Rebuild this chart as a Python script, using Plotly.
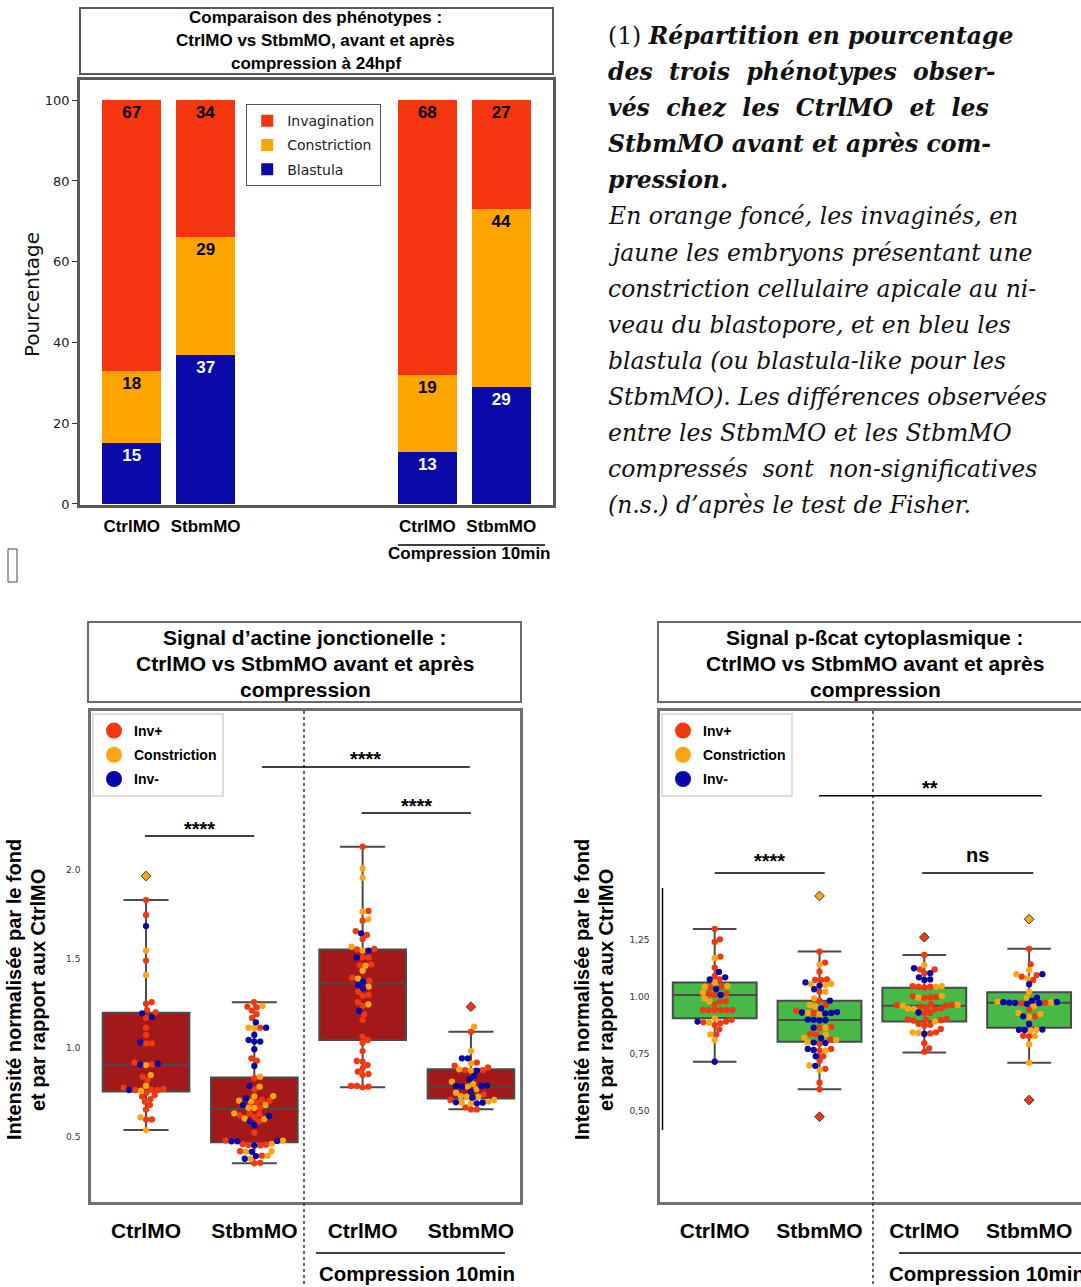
import math
import plotly.graph_objects as go

W, H = 1081, 1287          # reference pixel grid
FIG_H = 1294               # rendered height (compensates the capture's vertical rescale)
def PX(x): return x / W
def PY(y): return 1 - y / H

# ======================= DATA =======================
# (1) phenotype distribution (%), stacked bars
bar_labels = ["CtrlMO", "StbmMO", "CtrlMO", "StbmMO"]
pct_blastula = [15, 37, 13, 29]
pct_constriction = [18, 29, 19, 44]
pct_invagination = [67, 34, 68, 27]
pct_ticks = [0, 20, 40, 60, 80, 100]

# (2) junctional actin signal: box statistics
box_labels = ["CtrlMO", "StbmMO", "CtrlMO", "StbmMO"]
actin_low = [0.539, 0.352, 0.779, 0.656]
actin_q1 = [0.755, 0.470, 1.045, 0.717]
actin_med = [0.904, 0.657, 1.363, 0.783]
actin_q3 = [1.198, 0.835, 1.554, 0.880]
actin_high = [1.831, 1.257, 2.131, 1.092]
actin_ticks = [0.5, 1.0, 1.5, 2.0]
actin_ticktext = ["0.5", "1.0", "1.5", "2.0"]

# actin points per group and phenotype
ac_ctrl_inv = [1.831, 1.747, 1.491, 1.258, 1.249, 1.213, 1.200, 1.170, 1.114, 1.073, 1.026, 1.026,
               0.919, 0.908, 0.839, 0.820, 0.777, 0.770, 0.764, 0.764, 0.766, 0.749, 0.736, 0.727,
               0.713, 0.698, 0.680, 0.655, 0.599, 0.599]
ac_ctrl_con = [1.547, 1.410, 0.904, 0.848, 0.788, 0.760, 0.610, 0.539]
ac_ctrl_neg = [1.685, 1.195, 1.174, 1.032, 0.908, 0.912, 0.764]
ac_stbm_inv = [1.257, 1.232, 1.228, 1.210, 1.190, 1.169, 1.114, 0.942, 0.929, 0.830, 0.768, 0.693,
               0.708, 0.704, 0.665, 0.632, 0.630, 0.622, 0.612, 0.588, 0.524, 0.480, 0.457, 0.455,
               0.453, 0.460, 0.420, 0.395, 0.355, 0.352]
ac_stbm_con = [1.236, 1.114, 1.112, 0.839, 0.783, 0.730, 0.728, 0.704, 0.699, 0.680, 0.665, 0.663,
               0.633, 0.604, 0.600, 0.480, 0.462, 0.420, 0.418, 0.395, 0.378]
ac_stbm_neg = [1.144, 1.114, 1.073, 1.045, 1.036, 1.036, 0.993, 0.899, 0.787, 0.717, 0.680, 0.618,
               0.588, 0.566, 0.478, 0.476, 0.476, 0.452, 0.417, 0.393, 0.378]
ac_cctrl_inv = [2.131, 1.770, 1.715, 1.657, 1.635, 1.612, 1.556, 1.554, 1.509, 1.509, 1.470, 1.466,
                1.395, 1.378, 1.316, 1.298, 1.294, 1.257, 1.236, 1.189, 1.157, 1.064, 1.045, 1.030,
                0.983, 0.923, 0.927, 0.904, 0.886, 0.867, 0.854, 0.848, 0.783, 0.779, 0.787, 0.787]
ac_cctrl_con = [2.009, 1.957, 1.766, 1.723, 1.569, 1.547, 1.463, 1.434, 1.390, 1.345, 1.245]
ac_cctrl_neg = [1.644, 1.547, 1.509, 1.373, 1.354, 1.335, 1.208]
ac_cstbm_inv = [1.092, 0.918, 0.901, 0.891, 0.876, 0.876, 0.740, 0.708, 0.667, 0.655, 0.655]
ac_cstbm_con = [1.120, 0.983, 0.914, 0.873, 0.880, 0.811, 0.798, 0.783, 0.768, 0.749, 0.730, 0.727,
                0.727, 0.708, 0.699, 0.693, 0.689]
ac_cstbm_neg = [0.942, 0.942, 0.873, 0.843, 0.824, 0.787, 0.783, 0.787, 0.789, 0.755, 0.721, 0.689,
                0.693, 0.695]
# actin outliers (value, group index, phenotype)
ac_out_val = [1.966, 1.232]
ac_out_grp = [0, 3]
ac_out_cat = ["con", "inv"]

# (3) cytoplasmic p-bcat signal: box statistics
pb_low = [0.716, 0.595, 0.757, 0.712]
pb_q1 = [0.907, 0.804, 0.892, 0.865]
pb_med = [1.009, 0.899, 0.961, 0.975]
pb_q3 = [1.064, 0.984, 1.041, 1.021]
pb_high = [1.298, 1.199, 1.184, 1.211]
pb_ticks = [0.5, 0.75, 1.0, 1.25]
pb_ticktext = ["0,50", "0,75", "1.00", "1,25"]

pb_ctrl_inv = [1.298, 1.253, 1.241, 1.177, 1.129, 1.092, 1.077, 1.045, 1.042, 1.016, 1.013, 1.009,
               0.982, 0.980, 0.969, 0.943, 0.943, 0.943, 0.943, 0.943, 0.943, 0.900, 0.889, 0.885,
               0.892, 0.877, 0.858, 0.836]
pb_ctrl_con = [1.170, 1.063, 1.048, 1.045, 1.019, 0.994, 0.980, 0.906, 0.887, 0.836, 0.811]
pb_ctrl_neg = [1.110, 1.077, 1.086, 1.034, 1.009, 0.892, 0.716]
pb_stbm_inv = [1.199, 1.151, 1.111, 1.077, 1.075, 1.075, 1.023, 0.984, 0.965, 0.940, 0.930,
               0.865, 0.868, 0.835, 0.838, 0.812, 0.795, 0.772, 0.765, 0.740, 0.720, 0.685, 0.624, 0.595]
pb_stbm_con = [1.142, 1.058, 1.052, 1.056, 1.023, 0.994, 0.965, 0.958, 0.930, 0.925, 0.865,
               0.835, 0.822, 0.812, 0.802, 0.765, 0.700, 0.680]
pb_stbm_neg = [1.064, 1.050, 1.034, 0.984, 0.950, 0.930, 0.928, 0.932, 0.934, 0.900, 0.898,
               0.897, 0.901, 0.865, 0.820, 0.800, 0.798, 0.768, 0.772, 0.740, 0.698]
pb_cctrl_inv = [1.184, 1.121, 1.121, 1.104, 1.045, 1.045, 1.042, 1.048, 1.000, 0.995, 1.003, 0.998,
                0.965, 0.965, 0.968, 0.962, 0.958, 0.950, 0.952, 0.946, 0.930, 0.928, 0.900, 0.898,
                0.902, 0.896, 0.904, 0.875, 0.878, 0.882, 0.860, 0.840, 0.845, 0.797, 0.775, 0.760]
pb_cctrl_con = [1.140, 1.048, 1.045, 1.005, 0.998, 0.966, 0.962, 0.950, 0.948, 0.893, 0.845, 0.842]
pb_cctrl_neg = [1.126, 1.104, 1.086, 1.077, 1.075, 0.932, 0.838]
pb_cstbm_inv = [1.211, 1.143, 1.096, 1.089, 1.075, 0.975, 0.972, 0.946, 0.915, 0.830, 0.828]
pb_cstbm_con = [1.118, 1.082, 1.100, 1.023, 0.997, 0.976, 0.980, 0.960, 0.930, 0.925, 0.913, 0.856,
                0.853, 0.829, 0.792, 0.712]
pb_cstbm_neg = [1.100, 1.056, 0.997, 0.984, 0.978, 0.975, 0.977, 0.973, 0.970, 0.974, 0.915, 0.882,
                0.857, 0.856, 0.855]
pb_out_val = [1.443, 0.475, 1.262, 1.341, 0.548]
pb_out_grp = [1, 1, 2, 3, 3]
pb_out_cat = ["con", "inv", "inv", "con", "inv"]

# ======================= STYLE / LAYOUT CONSTANTS =======================
bar_pos = [0, 1, 4, 5]
box_pos = [0, 1, 2, 3]
C_BAR = {"inv": "#F4350F", "con": "#FFA500", "neg": "#0A0AA8"}
C_PT = {"inv": "#F2380F", "con": "#FFA514", "neg": "#0606A6"}
SANS = "Liberation Sans, Arial, Helvetica, sans-serif"
DSANS = "DejaVu Sans, sans-serif"
SERIF = "DejaVu Serif, serif"
DOT = 6.3      # marker diameter (px)
DSEP = 5.9     # swarm separation (px)

fig = go.Figure()

# ---------------- top stacked bars ----------------
for rank, (vals, name, key, tcol) in enumerate([(pct_blastula, "Blastula", "neg", "white"),
                                                (pct_constriction, "Constriction", "con", "black"),
                                                (pct_invagination, "Invagination", "inv", "black")]):
    fig.add_trace(go.Bar(
        x=bar_pos, y=vals, name=name, width=0.8,
        marker=dict(color=C_BAR[key], line=dict(width=0)),
        texttemplate="<b>%{y}</b>", textposition="inside", insidetextanchor="end",
        textangle=0, constraintext="none",
        textfont=dict(family=SANS, size=17, color=tcol),
        xaxis="x", yaxis="y", legend="legend", legendgroup=name, legendrank=10 - rank,
        hoverinfo="skip"))

# ---------------- swarm helper ----------------
def swarm_offsets(values, ypx, xpx, d):
    n = len(values)
    order = sorted(range(n), key=lambda i: values[i])
    placed = []
    offs = [0.0] * n
    for i in order:
        y = values[i] * ypx
        cands = [0.0]
        for (xj, yj) in placed:
            dy = abs(y - yj)
            if dy < d:
                dx = math.sqrt(d * d - dy * dy)
                cands += [xj + dx, xj - dx]
        cands.sort(key=abs)
        chosen = None
        for c in cands:
            if all((c - xj) ** 2 + (y - yj) ** 2 >= d * d - 1e-6 for xj, yj in placed):
                chosen = c
                break
        if chosen is None:
            chosen = max(abs(c) for c in cands) + d
        placed.append((chosen, y))
        offs[i] = chosen / xpx
    return offs

def add_box_panel(xa, ya, leg, groups, low, q1, med, q3, high, fill,
                  out_val, out_grp, out_cat, ypx, xpx):
    fig.add_trace(go.Box(
        x=box_pos, q1=q1, median=med, q3=q3, lowerfence=low, upperfence=high,
        width=0.8, whiskerwidth=0.52, fillcolor=fill,
        line=dict(color="#4a4a4a", width=2), boxpoints=False,
        xaxis=xa, yaxis=ya, showlegend=False, hoverinfo="skip"))
    fig.add_trace(go.Scatter(
        x=[box_pos[g] for g in out_grp], y=out_val, mode="markers",
        marker=dict(symbol="diamond", size=7.5, color=[C_PT[c] for c in out_cat],
                    line=dict(color="#3a3a3a", width=1)),
        xaxis=xa, yaxis=ya, showlegend=False, hoverinfo="skip"))
    xs = {"inv": [], "con": [], "neg": []}
    ys = {"inv": [], "con": [], "neg": []}
    for gi, (inv, con, neg) in enumerate(groups):
        vals = inv + con + neg
        cats = ["inv"] * len(inv) + ["con"] * len(con) + ["neg"] * len(neg)
        offs = swarm_offsets(vals, ypx, xpx, DSEP)
        for v, c, o in zip(vals, cats, offs):
            xs[c].append(box_pos[gi] + o)
            ys[c].append(v)
    for c in ["inv", "con", "neg"]:
        fig.add_trace(go.Scatter(
            x=xs[c], y=ys[c], mode="markers",
            marker=dict(size=DOT, color=C_PT[c], line=dict(width=0)),
            xaxis=xa, yaxis=ya, showlegend=False, hoverinfo="skip"))
    for c, nm in [("inv", "Inv+"), ("con", "Constriction"), ("neg", "Inv-")]:
        fig.add_trace(go.Scatter(
            x=[None], y=[None], mode="markers", name=nm,
            marker=dict(size=16, color=C_PT[c]),
            xaxis=xa, yaxis=ya, legend=leg, legendgroup=leg + nm, showlegend=True))

add_box_panel("x2", "y2", "legend2",
              [(ac_ctrl_inv, ac_ctrl_con, ac_ctrl_neg),
               (ac_stbm_inv, ac_stbm_con, ac_stbm_neg),
               (ac_cctrl_inv, ac_cctrl_con, ac_cctrl_neg),
               (ac_cstbm_inv, ac_cstbm_con, ac_cstbm_neg)],
              actin_low, actin_q1, actin_med, actin_q3, actin_high, "#A31818",
              ac_out_val, ac_out_grp, ac_out_cat, 178.0, 108.3)

add_box_panel("x3", "y3", "legend3",
              [(pb_ctrl_inv, pb_ctrl_con, pb_ctrl_neg),
               (pb_stbm_inv, pb_stbm_con, pb_stbm_neg),
               (pb_cctrl_inv, pb_cctrl_con, pb_cctrl_neg),
               (pb_cstbm_inv, pb_cstbm_con, pb_cstbm_neg)],
              pb_low, pb_q1, pb_med, pb_q3, pb_high, "#46B946",
              pb_out_val, pb_out_grp, pb_out_cat, 228.0, 104.8)

# ---------------- axes ----------------
frame = dict(showline=True, mirror=True, showgrid=False, zeroline=False)
bold_tick = dict(family=SANS, size=21, color="black", weight="bold")
fig.update_layout(
    xaxis=dict(domain=[PX(80), PX(553)], range=[-0.7, 5.7], tickvals=bar_pos, ticktext=bar_labels,
               anchor="y",
               tickfont=dict(family=SANS, size=17, color="black", weight="bold"),
               ticks="", ticklabelstandoff=4, linecolor="#5a5a5a", linewidth=2.5, **frame),
    yaxis=dict(domain=[PY(505), PY(80)], range=[-0.25, 105], tickvals=pct_ticks, anchor="x",
               tickfont=dict(family=DSANS, size=13, color="#222"), ticks="outside", ticklen=5,
               tickcolor="#333", linecolor="#5a5a5a", linewidth=2.5, **frame),
    xaxis2=dict(domain=[PX(91), PX(520)], range=[-0.508, 3.453], tickvals=box_pos, ticktext=box_labels,
                anchor="y2", tickfont=bold_tick, ticks="", ticklabelstandoff=8,
                linecolor="#707070", linewidth=2.5, **frame),
    yaxis2=dict(domain=[PY(1202), PY(711)], range=[0.135, 2.893], tickvals=actin_ticks, anchor="x2",
                ticktext=actin_ticktext, tickfont=dict(family=DSANS, size=9, color="#333"),
                ticks="", ticklabelstandoff=6, linecolor="#707070", linewidth=2.5, **frame),
    xaxis3=dict(domain=[PX(660), 1.0], range=[-0.522, 3.495], tickvals=box_pos, ticktext=box_labels,
                anchor="y3", tickfont=bold_tick, ticks="", ticklabelstandoff=8,
                linecolor="#707070", linewidth=2.5, **frame),
    yaxis3=dict(domain=[PY(1202), PY(711)], range=[0.101, 2.254], tickvals=pb_ticks, anchor="x3",
                ticktext=pb_ticktext, tickfont=dict(family=DSANS, size=9, color="#333"),
                ticks="", ticklabelstandoff=6, linecolor="#707070", linewidth=2.5,
                showline=True, mirror=False, showgrid=False, zeroline=False),
    barmode="stack",
    autosize=False, width=W, height=FIG_H, margin=dict(l=0, r=0, t=0, b=0),
    paper_bgcolor="white", plot_bgcolor="white",
    legend=dict(x=PX(246), y=PY(104), xanchor="left", yanchor="top", traceorder="grouped",
                tracegroupgap=3, font=dict(family=DSANS, size=14, color="#222"),
                bgcolor="white", bordercolor="#555", borderwidth=1.2, itemwidth=30),
    legend2=dict(x=PX(92), y=PY(713), xanchor="left", yanchor="top", traceorder="grouped",
                 tracegroupgap=3, font=dict(family=SANS, size=14, color="black", weight="bold"),
                 bgcolor="white", bordercolor="#dddddd", borderwidth=2, itemwidth=30),
    legend3=dict(x=PX(661), y=PY(713), xanchor="left", yanchor="top", traceorder="grouped",
                 tracegroupgap=3, font=dict(family=SANS, size=14, color="black", weight="bold"),
                 bgcolor="white", bordercolor="#dddddd", borderwidth=2, itemwidth=30),
)

shapes = []
ann = []

def text(x, y, s, size, family=SANS, color="black", **kw):
    d = dict(x=PX(x), y=PY(y), xref="paper", yref="paper", text=s, showarrow=False,
             font=dict(family=family, size=size, color=color), xanchor="center", yanchor="middle")
    d.update(kw)
    ann.append(d)

def line(x0, y0, x1, y1, color="black", width=1.5, dash=None):
    ln = dict(color=color, width=width)
    if dash:
        ln["dash"] = dash
    shapes.append(dict(type="line", xref="paper", yref="paper", x0=PX(x0), y0=PY(y0),
                       x1=PX(x1), y1=PY(y1), line=ln))

def rect(x0, y0, x1, y1, color="#5a5a5a", width=2):
    shapes.append(dict(type="rect", xref="paper", yref="paper", x0=PX(x0), y0=PY(y0),
                       x1=PX(x1), y1=PY(y1), line=dict(color=color, width=width)))

# ---- top chart decorations
rect(80, 8, 553, 74, width=2)
for yy, s in [(18, "Comparaison des phénotypes :"), (41, "CtrlMO vs StbmMO, avant et après"),
              (63, "compression à 24hpf")]:
    text(316, yy, "<b>%s</b>" % s, 17)
text(32, 295, "Pourcentage", 20, family=DSANS, color="#111", textangle=-90)
line(398, 545, 545, 545, width=1.5)
text(469, 553, "<b>Compression 10min</b>", 17)
rect(8, 549, 17, 582, color="#444", width=1)

# ---- paragraph
SER = 23.5
para = [
    "(1) <b><i>Répartition en pourcentage</i></b>",
    "<b><i>des  trois  phénotypes  obser-</i></b>",
    "<b><i>vés  chez  les  CtrlMO  et  les</i></b>",
    "<b><i>StbmMO avant et après com-</i></b>",
    "<b><i>pression.</i></b>",
    "<i>En orange foncé, les invaginés, en</i>",
    "<i>jaune les embryons présentant une</i>",
    "<i>constriction cellulaire apicale au ni-</i>",
    "<i>veau du blastopore, et en bleu les</i>",
    "<i>blastula (ou blastula-like pour les</i>",
    "<i>StbmMO). Les différences observées</i>",
    "<i>entre les StbmMO et les StbmMO</i>",
    "<i>compressés  sont  non-significatives</i>",
    "<i>(n.s.) d’après le test de Fisher.</i>",
]
for k, s in enumerate(para):
    text(606, 36 + 36.1 * k, s, SER, family=SERIF, color="#111", xanchor="left")

# ---- bottom titles
for cx, x0, x1, l1 in [(305, 88, 521, "Signal d’actine jonctionelle :"),
                       (875, 658, 1095, "Signal p-ßcat cytoplasmique :")]:
    rect(x0, 622, x1, 702, color="#6a6a6a", width=2)
    for yy, s in [(637, l1), (663, "CtrlMO vs StbmMO avant et après"), (689, "compression")]:
        text(cx, yy, "<b>%s</b>" % s, 21)

# y titles
for xo in [0, 568]:
    text(14 + xo, 990, "<b>Intensité normalisée par le fond</b>", 20, textangle=-90)
    text(38 + xo, 990, "<b>et par rapport aux CtrlMO</b>", 20, textangle=-90)

# dividers and compression labels
line(304, 711, 304, 1295, color="#333", width=1.5, dash="dot")
line(873, 711, 873, 1295, color="#333", width=1.5, dash="dot")
line(316, 1253, 505, 1253, width=1.5)
text(417, 1273, "<b>Compression 10min</b>", 20.5)
line(899, 1253, 1090, 1253, width=1.5)
text(987, 1273, "<b>Compression 10min</b>", 20.5)

# inner spine of right panel
shapes.append(dict(type="line", xref="paper", yref="y3", x0=PX(662.5), x1=PX(662.5),
                   y0=0.417, y1=1.478, line=dict(color="black", width=1.5)))

# significance bars (data coordinates)
def sig(xa, ya, x0, x1, yv, s, shift):
    shapes.append(dict(type="line", xref=xa, yref=ya, x0=x0, x1=x1, y0=yv, y1=yv,
                       line=dict(color="black", width=1.5)))
    ann.append(dict(x=(x0 + x1) / 2, y=yv, xref=xa, yref=ya, text="<b>%s</b>" % s,
                    showarrow=False, font=dict(family=SANS, size=20, color="black"),
                    yanchor="middle", yshift=shift))

sig("x2", "y2", -0.01, 1.0, 2.191, "****", 7)
sig("x2", "y2", 1.07, 2.99, 2.579, "****", 8)
sig("x2", "y2", 1.99, 3.0, 2.32, "****", 7)
sig("x3", "y3", 0.0, 1.05, 1.544, "****", 12)
sig("x3", "y3", 0.995, 3.12, 1.882, "**", 8)
sig("x3", "y3", 1.98, 3.04, 1.544, "ns", 18)

fig.update_layout(shapes=shapes, annotations=ann)
fig.write_html("out.html", config={"displayModeBar": False, "responsive": False},
               post_script="document.body.style.margin='0';document.body.style.overflow='hidden';")
